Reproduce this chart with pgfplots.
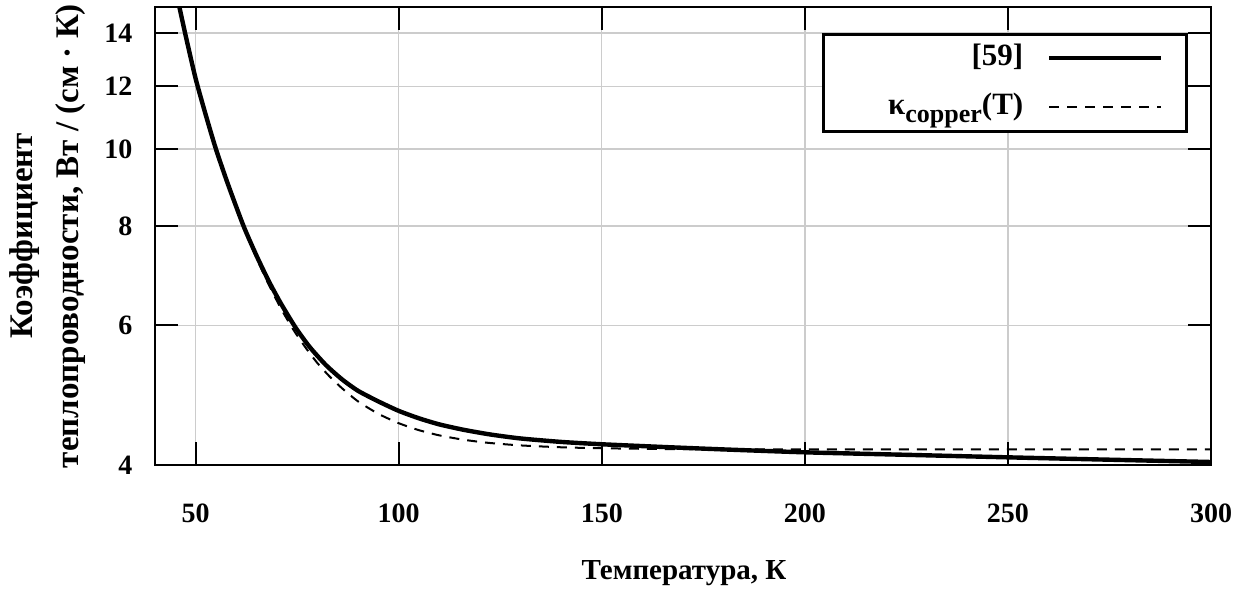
\documentclass[border=0pt]{standalone}
\usepackage{fontspec}
\setmainfont{Liberation Serif}
\usepackage{pgfplots}
\pgfplotsset{compat=1.18}

\newcommand{\tickfont}{\bfseries\fontsize{14}{16}\selectfont}
\newcommand{\xlblfont}{\bfseries\fontsize{14.5}{17}\selectfont}
\newcommand{\ylblfont}{\bfseries\fontsize{16.5}{23}\selectfont}
\newcommand{\legfont}{\bfseries\fontsize{15.5}{18}\selectfont}

\begin{document}
\begin{tikzpicture}
\begin{axis}[
  at={(0,0)}, anchor=south west,
  scale only axis, width=528pt, height=229pt,
  xmin=40, xmax=300, ymin=4, ymax=15.1,
  ymode=log,
  xtick={50,100,150,200,250,300},
  xticklabels={50,100,150,200,250,300},
  ytick={4,6,8,10,12,14},
  yticklabels={4,6,8,10,12,14},
  yminorticks=false,
  tick align=inside, tick pos=both,
  major tick length=11.5pt,
  tick style={black, line width=1pt},
  axis line style={black, line width=1.3pt},
  grid=major,
  grid style={black!20, line width=0.7pt},
  ticklabel style={font=\tickfont},
  xticklabel style={yshift=-15.8pt},
  yticklabel style={xshift=-7.8pt},
  xlabel={Температура, К},
  xlabel style={at={(axis description cs:0.501,-0.2358)}, anchor=center, font=\xlblfont},
  ylabel={Коэффициент\\теплопроводности, Вт / (см · К)},
  ylabel style={at={(axis description cs:-0.1013,0.5)}, anchor=center, align=center, font=\ylblfont},
  legend cell align=right,
  legend plot pos=right,
  legend image code/.code={\draw[#1] (0pt,0pt) -- (56pt,0pt);},
  legend style={
    at={(axis description cs:1,1)}, anchor=north east,
    xshift=-11.5pt, yshift=-13pt,
    draw=black, line width=1.3pt, fill=white,
    inner xsep=11.5pt, inner ysep=5pt,
    row sep=10.5pt, column sep=12pt,
    nodes={inner sep=0pt, text height=10.5pt, text depth=3.5pt},
    font=\legfont,
  },
]
% reference data [59]
\addplot[black, line width=2.2pt, smooth, tension=0.4] coordinates {
  (45,15.9) (46,15.1) (47.6,13.86) (50,12.27) (52.5,11.04) (55,10.0)
  (58,9.02) (61.8,8.0) (65,7.34) (68,6.82) (71,6.39) (74.6,5.96)
  (78,5.64) (82,5.35) (86,5.13) (90,4.96) (95,4.81) (100,4.68)
  (105,4.58) (110,4.50) (116,4.43) (122.6,4.37) (130,4.32) (140,4.277)
  (150,4.248) (165,4.215) (180,4.185) (200,4.15) (225,4.12) (250,4.09)
  (275,4.062) (300,4.035)
};
\addlegendentry{\makebox[88.5pt][r]{[59]}}
% approximation kappa_copper(T)
\addplot[black, line width=1pt, dash pattern=on 5pt off 4pt, smooth, tension=0.4] coordinates {
  (45,15.9) (46,15.1) (47.6,13.86) (50,12.27) (52.5,11.04) (55,10.07)
  (58,9.05) (61.8,8.0) (65,7.29) (68,6.75) (71,6.30) (74,5.93)
  (77,5.63) (80,5.375) (83,5.17) (86,5.0) (90,4.81) (95,4.64)
  (100,4.516) (105,4.425) (110,4.359) (116,4.304) (122,4.266) (130,4.234)
  (140,4.211) (150,4.199) (165,4.19) (180,4.187) (200,4.186) (250,4.185)
  (300,4.185)
};
\addlegendentry{κ\raisebox{-4pt}{\fontsize{13}{13}\selectfont copper}(T)}
\end{axis}
\pgfresetboundingbox
\useasboundingbox (-77.5pt,-70.5pt) rectangle (547pt,232.5pt);
\end{tikzpicture}
\end{document}
